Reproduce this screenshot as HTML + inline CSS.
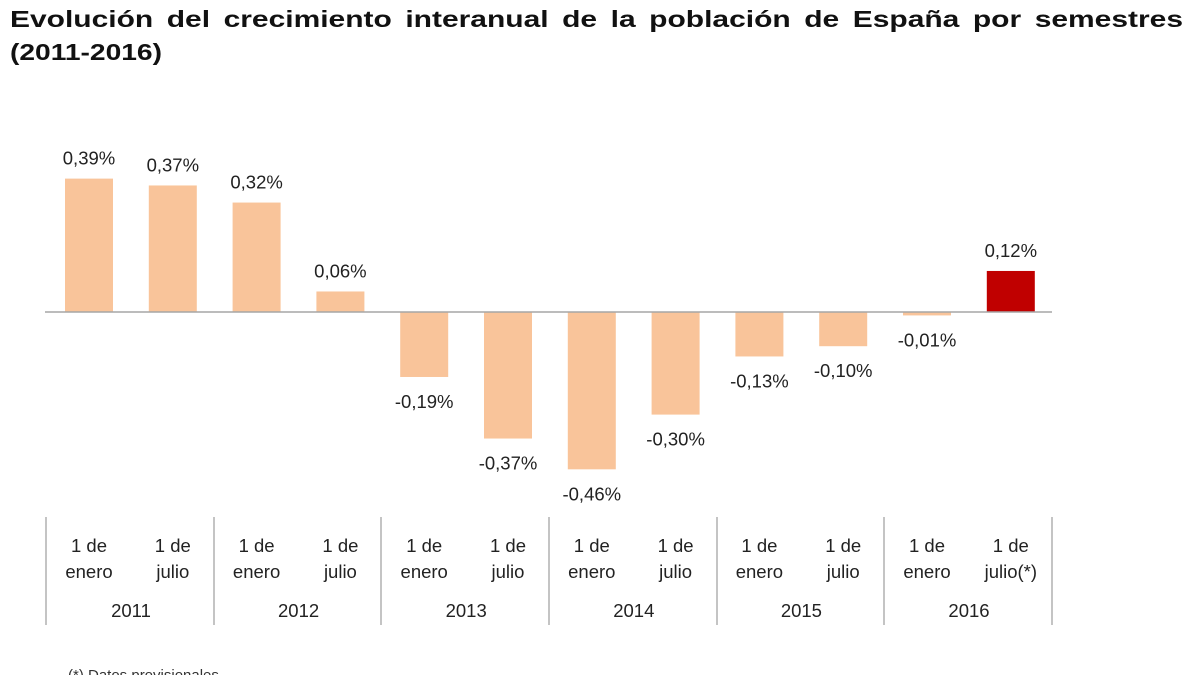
<!DOCTYPE html>
<html><head><meta charset="utf-8"><style>
html,body{margin:0;padding:0;background:#fff;width:1200px;height:675px;overflow:hidden}
svg{display:block;font-family:"Liberation Sans",Arial,sans-serif}
</style></head><body>
<svg width="1200" height="675" viewBox="0 0 1200 675">
<text x="10" y="27" font-size="23" font-weight="bold" fill="#111" textLength="1173" lengthAdjust="spacingAndGlyphs" word-spacing="4">Evolución del crecimiento interanual de la población de España por semestres</text>
<text x="10" y="60" font-size="23" font-weight="bold" fill="#111" textLength="152" lengthAdjust="spacingAndGlyphs">(2011-2016)</text>
<g id="bars"></g>
<line x1="45" y1="312" x2="1052" y2="312" stroke="#a6a6a6" stroke-width="1.5"/>
<g stroke="#b0b0b0" stroke-width="1.5">
<line x1="46" y1="517" x2="46" y2="625"/><line x1="214" y1="517" x2="214" y2="625"/>
<line x1="381" y1="517" x2="381" y2="625"/><line x1="549" y1="517" x2="549" y2="625"/>
<line x1="717" y1="517" x2="717" y2="625"/><line x1="884" y1="517" x2="884" y2="625"/>
<line x1="1052" y1="517" x2="1052" y2="625"/>
</g>
<g id="lbl" font-size="18.5" fill="#222" text-anchor="middle"></g>
<text x="68" y="680" font-size="15" fill="#333">(*) Datos provisionales</text>
<script>
var ns="http://www.w3.org/2000/svg";
var v=[0.39,0.37,0.32,0.06,-0.19,-0.37,-0.46,-0.30,-0.13,-0.10,-0.01,0.12];
var s=['0,39%','0,37%','0,32%','0,06%','-0,19%','-0,37%','-0,46%','-0,30%','-0,13%','-0,10%','-0,01%','0,12%'];
var B=document.getElementById('bars'),L=document.getElementById('lbl');
function t(x,y,str){var e=document.createElementNS(ns,'text');e.setAttribute('x',x);e.setAttribute('y',y);e.textContent=str;L.appendChild(e);}
for(var i=0;i<12;i++){
 var c=89+83.8*i,h=v[i]*342,r=document.createElementNS(ns,'rect');
 r.setAttribute('x',c-24);r.setAttribute('width',48);
 r.setAttribute('y',h>0?312-h:312);r.setAttribute('height',Math.max(Math.abs(h),1.5));
 r.setAttribute('fill',i==11?'#C00000':'#F9C49A');B.appendChild(r);
 if(v[i]>0)t(c,312-h-14,s[i]);else t(c,312-h+31,s[i]);
 t(c,552,'1 de');t(c,578,i%2?(i==11?'julio(*)':'julio'):'enero');
 if(i%2==0)t(c+42,617,2011+i/2);
}
</script>
</svg>
</body></html>
